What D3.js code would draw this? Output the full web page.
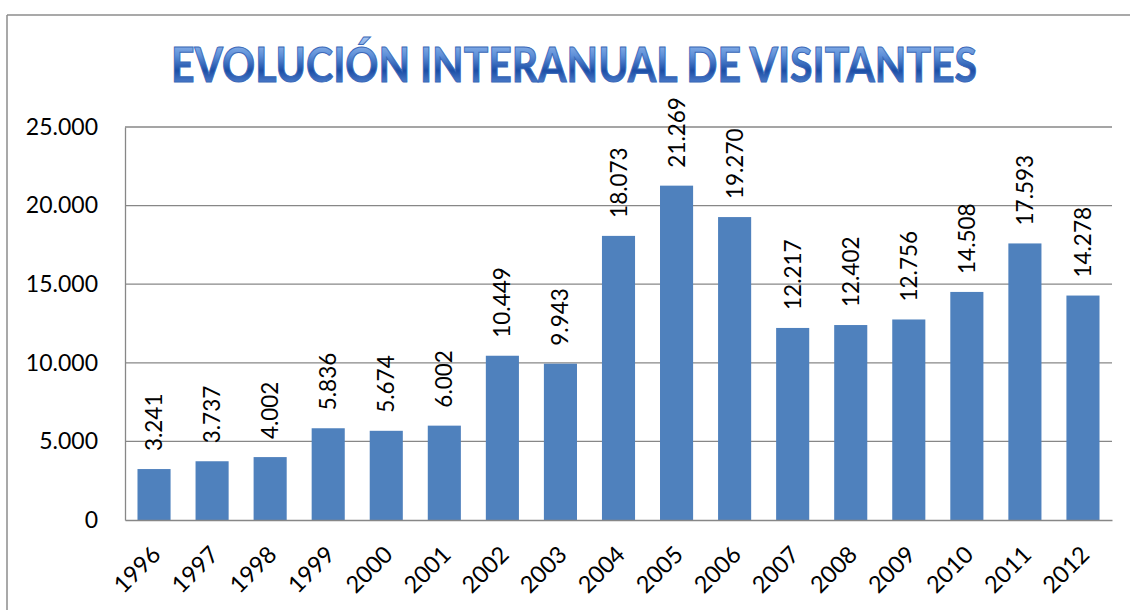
<!DOCTYPE html>
<html>
<head>
<meta charset="utf-8">
<script src="https://cdn.jsdelivr.net/npm/d3@7"></script>
<style>
  body { margin: 0; background: #fff; }
  svg { display: block; font-family: Lato, "Open Sans", sans-serif; }
</style>
</head>
<body>
<svg id="chart"></svg>
<script>
var width = 1130;
var height = 610;

var years = ["1996","1997","1998","1999","2000","2001","2002","2003","2004",
             "2005","2006","2007","2008","2009","2010","2011","2012"];
var visitors = [3241, 3737, 4002, 5836, 5674, 6002, 10449, 9943, 18073,
                21269, 19270, 12217, 12402, 12756, 14508, 17593, 14278];
var yTicks = [0, 5000, 10000, 15000, 20000, 25000];
var title = "EVOLUCIÓN INTERANUAL DE VISITANTES";

var margin = {top: 127, right: 18, bottom: 90, left: 125};

var es = d3.formatLocale({decimal: ",", thousands: ".", grouping: [3], currency: ["", "€"]});
var fmt = es.format(",d");

var svg = d3.select("#chart")
    .attr("width", width)
    .attr("height", height);

// chart frame (only top and left edges visible in the picture)
svg.append("line")
    .attr("x1", 7).attr("x2", width).attr("y1", 15).attr("y2", 15)
    .attr("stroke", "#8c8c8c").attr("stroke-width", 1.5);
svg.append("line")
    .attr("x1", 7).attr("x2", 7).attr("y1", 15).attr("y2", height)
    .attr("stroke", "#8c8c8c").attr("stroke-width", 1.5);

// title gradient
var defs = svg.append("defs");
var grad = defs.append("linearGradient")
    .attr("id", "titleGrad")
    .attr("x1", 0).attr("x2", 0).attr("y1", 0).attr("y2", 1);
grad.append("stop").attr("offset", "0%").attr("stop-color", "#a9c8f2");
grad.append("stop").attr("offset", "35%").attr("stop-color", "#5d8fd8");
grad.append("stop").attr("offset", "62%").attr("stop-color", "#1c4ea6");
grad.append("stop").attr("offset", "100%").attr("stop-color", "#6f9ee4");

svg.append("text")
    .attr("x", 574)
    .attr("y", 82)
    .attr("text-anchor", "middle")
    .attr("font-size", 47)
    .attr("font-weight", "bold")
    .attr("textLength", 806)
    .attr("lengthAdjust", "spacingAndGlyphs")
    .attr("fill", "url(#titleGrad)")
    .attr("stroke", "#3a68b8")
    .attr("stroke-width", 1)
    .text(title);

var x = d3.scaleBand()
    .domain(years)
    .range([margin.left, width - margin.right])
    .paddingInner(0.43)
    .paddingOuter(0.215);

var y = d3.scaleLinear()
    .domain([0, 25000])
    .range([height - margin.bottom, margin.top]);

// gridlines
svg.append("g")
    .selectAll("line")
    .data(yTicks.slice(1))
    .enter()
    .append("line")
    .attr("x1", margin.left)
    .attr("x2", width - margin.right)
    .attr("y1", d => y(d))
    .attr("y2", d => y(d))
    .attr("stroke", "#878787")
    .attr("stroke-width", 1.3);

// y axis
var yAxis = d3.axisLeft(y)
    .tickValues(yTicks)
    .tickFormat(fmt)
    .tickSize(0)
    .tickPadding(27);
var gy = svg.append("g")
    .attr("transform", `translate(${margin.left},0)`)
    .call(yAxis);
gy.select(".domain").attr("stroke", "#878787").attr("stroke-width", 1.3);
gy.selectAll("text")
    .attr("font-size", 23)
    .attr("font-family", "Lato, sans-serif")
    .attr("fill", "#000");

// bars
svg.append("g")
    .selectAll("rect")
    .data(years)
    .enter()
    .append("rect")
    .attr("x", d => x(d))
    .attr("y", (d, i) => y(visitors[i]))
    .attr("width", x.bandwidth())
    .attr("height", (d, i) => y(0) - y(visitors[i]))
    .attr("fill", "#4f81bd");

// value labels
svg.append("g")
    .selectAll("text")
    .data(years)
    .enter()
    .append("text")
    .attr("transform", (d, i) =>
        `translate(${x(d) + x.bandwidth() / 2 + 8},${y(visitors[i]) - 18}) rotate(-90)`)
    .attr("font-size", 22.5)
    .attr("fill", "#000")
    .text((d, i) => fmt(visitors[i]));

// x axis
var xAxis = d3.axisBottom(x).tickSize(0).tickPadding(0);
var gx = svg.append("g")
    .attr("transform", `translate(0,${height - margin.bottom})`)
    .call(xAxis);
gx.select(".domain").attr("stroke", "#878787").attr("stroke-width", 1.5);
gx.selectAll("text")
    .attr("font-size", 23.5)
    .attr("font-family", "Lato, sans-serif")
    .attr("fill", "#000")
    .attr("text-anchor", "end")
    .attr("dy", 0)
    .attr("transform", "translate(8,36) rotate(-45)");
</script>
</body>
</html>
